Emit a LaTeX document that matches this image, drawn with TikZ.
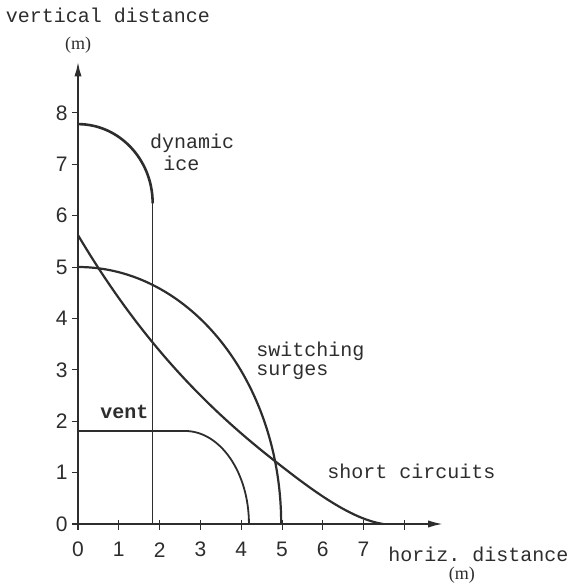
\documentclass[tikz,border=0pt]{standalone}
\usepackage{fontspec}
\setmainfont{Liberation Serif}
\setsansfont{Liberation Sans}
\setmonofont{Liberation Mono}
\usetikzlibrary{arrows.meta}
\definecolor{ink}{RGB}{45,45,45}

\begin{document}
\begin{tikzpicture}[x=20.4pt, y=25.7pt, ink,
		>={Latex[length=7.5pt, width=3.6pt]},
		tlabel/.style={font=\ttfamily, anchor=west, inner sep=0pt},
		ticklabel/.style={font=\sffamily\fontsize{10.5}{12}\selectfont, inner sep=0pt},
		unitlabel/.style={font=\fontsize{9}{10}\selectfont, inner sep=0pt}]
			
			\useasboundingbox (-1.912, -1.148) rectangle (12.034, 10.195);
			
			% axes
			\draw [->, line width=1pt] (-0.15, 0) -- (8.95, 0);
			\draw [->, line width=1pt] (0, -0.12) -- (0, 9.0);
			
			\draw (0.735, 9.90) node [font=\ttfamily, inner sep=0pt] (ytitle) {vertical distance};
			\draw (0, 9.32) node [unitlabel] (yunit) {(m)};
			\draw (7.60, -0.60) node [tlabel] (xtitle) {horiz. distance};
			\draw (9.41, -0.99) node [unitlabel] (xunit) {(m)};
			
			% ticks on y
			\draw (-0.15, 1) -- (0, 1);
			\draw (-0.15, 2) -- (0, 2);
			\draw (-0.15, 3) -- (0, 3);
			\draw (-0.15, 4) -- (0, 4);
			\draw (-0.15, 5) -- (0, 5);
			\draw (-0.15, 6) -- (0, 6);
			\draw (-0.15, 7) -- (0, 7);
			\draw (-0.15, 8) -- (0, 8);
			
			\draw (-0.40, 0) node [ticklabel] (y0) {0};
			\draw (-0.40, 1) node [ticklabel] (y1) {1};
			\draw (-0.40, 2) node [ticklabel] (y2) {2};
			\draw (-0.40, 3) node [ticklabel] (y3) {3};
			\draw (-0.40, 4) node [ticklabel] (y4) {4};
			\draw (-0.40, 5) node [ticklabel] (y5) {5};
			\draw (-0.40, 6) node [ticklabel] (y6) {6};
			\draw (-0.40, 7) node [ticklabel] (y7) {7};
			\draw (-0.40, 8) node [ticklabel] (y8) {8};
			
			% ticks on x
			\draw (1, 0.08) -- (1, -0.12);
			\draw (2, 0.08) -- (2, -0.12);
			\draw (3, 0.08) -- (3, -0.12);
			\draw (4, 0.08) -- (4, -0.12);
			\draw (5, 0.08) -- (5, -0.12);
			\draw (6, 0.08) -- (6, -0.12);
			\draw (7, 0.08) -- (7, -0.12);
			\draw (8, 0.08) -- (8, -0.12);
			
			\draw (0, -0.50) node [ticklabel] (x0) {0};
			\draw (1, -0.50) node [ticklabel] (x1) {1};
			\draw (2, -0.50) node [ticklabel] (x2) {2};
			\draw (3, -0.50) node [ticklabel] (x3) {3};
			\draw (4, -0.50) node [ticklabel] (x4) {4};
			\draw (5, -0.50) node [ticklabel] (x5) {5};
			\draw (6, -0.50) node [ticklabel] (x6) {6};
			\draw (7, -0.50) node [ticklabel] (x7) {7};
			
			% dynamic ice
			\draw [line width=1.3pt] (0, 7.78) arc [start angle=90, end angle=0, x radius=1.83, y radius=1.54];
			\draw [line width=0.7pt] (1.83, 6.24) -- (1.83, 0);
			
			% switching surges
			\draw [line width=1.1pt] (0, 5) arc [start angle=90, end angle=0, x radius=4.98, y radius=5];
			
			% short circuits
			\draw [line width=1.1pt] (0, 5.62) .. controls (1.6, 3.48) and (3.25, 2.2) .. (4.85, 1.21)
				.. controls (5.75, 0.65) and (6.68, 0.1) .. (7.48, 0);
			
			% vent
			\draw [line width=0.9pt] (0, 1.81) -- (2.62, 1.81) arc [start angle=90, end angle=0, x radius=1.57, y radius=1.81];
			
			\draw (1.76, 7.41) node [tlabel] (dyn) {dynamic};
			\draw (2.08, 7.02) node [tlabel] (ice) {ice};
			\draw (4.36, 3.35) node [tlabel] (sw) {switching};
			\draw (4.36, 2.96) node [tlabel] (surg) {surges};
			\draw (0.54, 2.18) node [tlabel, font=\ttfamily\bfseries] (vent) {vent};
			\draw (6.10, 1.03) node [tlabel] (short) {short circuits};
			
			\end{tikzpicture}
\end{document}
